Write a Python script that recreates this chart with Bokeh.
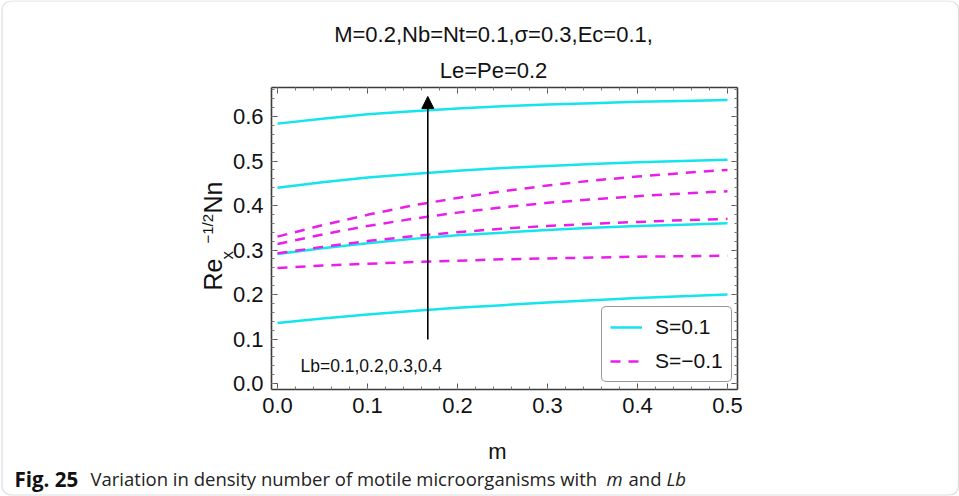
import math
from bokeh.plotting import figure
from bokeh.models import (Range1d, LinearAxis, SingleIntervalTicker, PrintfTickFormatter,
                          CustomJSTickFormatter, Label, Arrow, NormalHead, Legend,
                          LegendItem, BoxAnnotation)
from bokeh.embed import file_html
from bokeh.resources import INLINE

# ---------------- data ----------------
m = [0.0, 0.05, 0.10, 0.15, 0.20, 0.25, 0.30, 0.35, 0.40, 0.45, 0.50]

# S = 0.1 (solid cyan), Lb = 0.1 .. 0.4
s_pos_lb01 = [0.136, 0.146, 0.155, 0.163, 0.170, 0.176, 0.182, 0.187, 0.192, 0.196, 0.200]
s_pos_lb02 = [0.291, 0.304, 0.315, 0.325, 0.333, 0.339, 0.345, 0.350, 0.354, 0.357, 0.360]
s_pos_lb03 = [0.440, 0.452, 0.463, 0.471, 0.478, 0.484, 0.489, 0.493, 0.497, 0.500, 0.503]
s_pos_lb04 = [0.584, 0.595, 0.605, 0.612, 0.618, 0.623, 0.627, 0.630, 0.633, 0.635, 0.637]

# S = -0.1 (dashed magenta), Lb = 0.1 .. 0.4
s_neg_lb01 = [0.2595, 0.265, 0.269, 0.273, 0.276, 0.279, 0.281, 0.283, 0.285, 0.286, 0.287]
s_neg_lb02 = [0.2925, 0.307, 0.320, 0.331, 0.340, 0.348, 0.354, 0.359, 0.363, 0.367, 0.370]
s_neg_lb03 = [0.3135, 0.335, 0.354, 0.370, 0.384, 0.396, 0.406, 0.414, 0.421, 0.427, 0.432]
s_neg_lb04 = [0.330, 0.356, 0.379, 0.400, 0.417, 0.432, 0.445, 0.456, 0.465, 0.473, 0.480]

series_pos = [s_pos_lb01, s_pos_lb02, s_pos_lb03, s_pos_lb04]
series_neg = [s_neg_lb01, s_neg_lb02, s_neg_lb03, s_neg_lb04]

legend_labels = ["S=0.1", "S=\u22120.1"]
title_lines = ["M=0.2,Nb=Nt=0.1,\u03c3=0.3,Ec=0.1,", "Le=Pe=0.2"]
arrow_text = "Lb=0.1,0.2,0.3,0.4"
x_label = "m"
y_label_parts = ["Re", "x", "\u22121/2", "Nn"]
caption_bold = "Fig. 25"
caption_parts = [("Variation in density number of motile microorganisms with", "normal"),
                 ("m", "italic"), ("and", "normal"), ("Lb", "italic")]

# arrow (data units)
arrow_x = 0.167
arrow_y0, arrow_y1 = 0.099, 0.645

# ---------------- layout (pixel geometry of the reference) ----------------
W, H = 959, 496
PX_X0, PX_PER_X = 277.0, 900.0      # pixel of m=0, pixels per unit m
PX_Y0, PX_PER_Y = 383.0, 445.0      # pixel of 0, pixels per unit
FL, FR, FT, FB = 271, 737, 87, 389  # plot frame edges (px)


def xd(px):
    return (px - PX_X0) / PX_PER_X


def yd(py):
    return (PX_Y0 - py) / PX_PER_Y


X0, X1 = xd(FL), xd(FR)
Y0, Y1 = yd(FB), yd(FT)

FONT = "Liberation Sans"
CYAN = "#14e4ee"
MAGENTA = "#ea1eea"
FRAME = "#3a3a3a"
TXT = "#111111"

p = figure(width=W, height=H, x_range=Range1d(xd(0), xd(W)), y_range=Range1d(yd(H), yd(0)),
           output_backend="svg", toolbar_location=None,
           x_axis_location=None, y_axis_location=None, min_border=0)
p.min_border_left = p.min_border_right = p.min_border_top = p.min_border_bottom = 0
p.outline_line_color = None
p.grid.visible = False
p.background_fill_color = "white"
p.border_fill_color = "white"


def make_axis(fixed, bounds, labels):
    ax = LinearAxis(fixed_location=fixed, bounds=bounds)
    ax.ticker = SingleIntervalTicker(interval=0.1, num_minor_ticks=5)
    ax.axis_line_color = FRAME
    ax.axis_line_width = 1.6
    ax.major_tick_in = 6
    ax.major_tick_out = 0
    ax.minor_tick_in = 3
    ax.minor_tick_out = 0
    ax.major_tick_line_color = "#555555"
    ax.minor_tick_line_color = "#777777"
    ax.major_tick_line_width = 1
    ax.minor_tick_line_width = 1
    if labels:
        ax.formatter = PrintfTickFormatter(format="%.1f")
        ax.major_label_text_font = FONT
        ax.major_label_text_font_size = "22px"
        ax.major_label_text_color = TXT
        ax.major_label_standoff = 8
    else:
        ax.formatter = CustomJSTickFormatter(code="return ''")
    return ax


p.add_layout(make_axis(Y0, (X0, X1), True), "below")
p.add_layout(make_axis(X0, (Y0, Y1), True), "left")
p.add_layout(make_axis(Y1, (X0, X1), False), "above")
p.add_layout(make_axis(X1, (Y0, Y1), False), "right")

# ---------------- curves ----------------
pos_renderers = [p.line(m, ys, line_color=CYAN, line_width=2.5) for ys in series_pos]
neg_renderers = [p.line(m, ys, line_color=MAGENTA, line_width=2.5, line_dash="10 8")
                 for ys in series_neg]

# ---------------- arrow + annotation ----------------
p.add_layout(Arrow(end=NormalHead(size=12, fill_color="black", line_color="black"),
                   x_start=arrow_x, y_start=arrow_y0, x_end=arrow_x, y_end=arrow_y1,
                   line_color="black", line_width=1.6))
p.add_layout(Label(x=xd(300), y=yd(365), text=arrow_text, text_font=FONT,
                   text_font_size="17.5px", text_color=TXT,
                   text_align="left", text_baseline="alphabetic"))

# ---------------- legend ----------------
legend = Legend(items=[LegendItem(label=legend_labels[0], renderers=[pos_renderers[0]]),
                       LegendItem(label=legend_labels[1], renderers=[neg_renderers[0]])],
                location=(601, H - 382), orientation="vertical",
                label_text_font=FONT, label_text_font_size="21px",
                label_text_color=TXT,
                glyph_width=32, glyph_height=20, label_standoff=13,
                padding=8, spacing=10, margin=0,
                border_line_color="#333333", border_line_width=1.5,
                background_fill_color="white", background_fill_alpha=1.0)
if "border_radius" in Legend.properties():
    legend.border_radius = 5
p.add_layout(legend)

# ---------------- titles / axis labels ----------------
cx = 493
p.add_layout(Label(x=xd(cx), y=yd(34), text=title_lines[0], text_font=FONT,
                   text_font_size="22px", text_color=TXT,
                   text_align="center", text_baseline="alphabetic"))
p.add_layout(Label(x=xd(cx), y=yd(70), text=title_lines[1], text_font=FONT,
                   text_font_size="22px", text_color=TXT,
                   text_align="center", text_baseline="alphabetic"))
p.add_layout(Label(x=xd(497), y=yd(451), text=x_label, text_font=FONT,
                   text_font_size="22px", text_color=TXT,
                   text_align="center", text_baseline="alphabetic"))

# y label: Re_x^{-1/2}Nn, rotated (anchors = centre line of each piece)
rot = math.pi / 2
y_label_pos = [(212.5, 290, "25px"), (227.0, 259, "17px"),
               (207.0, 243, "15px"), (212.5, 213, "25px")]
for txt, (bx, by, size) in zip(y_label_parts, y_label_pos):
    p.add_layout(Label(x=xd(bx), y=yd(by), text=txt, text_font=FONT,
                       text_font_size=size, text_color=TXT, angle=rot,
                       text_align="left", text_baseline="middle"))

# ---------------- caption ----------------
CAP_FONT = "Open Sans"
p.add_layout(Label(x=xd(14), y=yd(478), text=caption_bold, text_font=CAP_FONT,
                   text_font_size="20.5px", text_font_style="bold", text_color=TXT,
                   text_align="left", text_baseline="alphabetic"))
cap_x = [90, 606, 628, 666]
for (txt, style), px in zip(caption_parts, cap_x):
    p.add_layout(Label(x=xd(px), y=yd(478), text=txt, text_font=CAP_FONT,
                       text_font_size="18.5px", text_font_style=style, text_color="#222222",
                       text_align="left", text_baseline="alphabetic"))

# ---------------- outer rounded border ----------------
outer = BoxAnnotation(left=xd(1.5), right=xd(958), top=yd(0.5), bottom=yd(494.5),
                      fill_alpha=0, line_color="#8a8a8a", line_width=1.2)
if "border_radius" in BoxAnnotation.properties():
    outer.border_radius = 9
p.add_layout(outer)

open("out.html", "w").write(file_html(p, INLINE))
